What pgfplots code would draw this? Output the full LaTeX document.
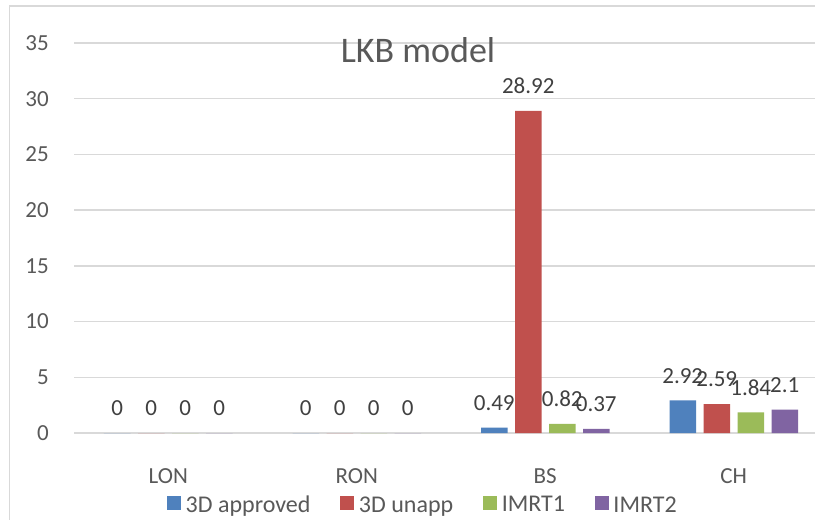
\documentclass[border=0pt]{standalone}
\usepackage{pgfplots}
\pgfplotsset{compat=1.18}
\usepackage{fontspec}
\setmainfont{Carlito}
\definecolor{gridgray}{HTML}{D9D9D9}
\definecolor{txtgray}{HTML}{595959}
\definecolor{lblgray}{HTML}{404040}
\definecolor{s1}{HTML}{4F81BD}
\definecolor{s2}{HTML}{C0504D}
\definecolor{s3}{HTML}{9BBB59}
\definecolor{s4}{HTML}{8064A2}

\begin{document}
\begin{tikzpicture}
\useasboundingbox (0,0) rectangle (815pt,520pt);
\clip (0,0) rectangle (815pt,520pt);
\fill[white] (0,0) rectangle (815pt,520pt);
% chart frame
\draw[gridgray, line width=1.5pt] (9.5pt,-20pt) rectangle (826pt,514pt);
\begin{axis}[
  at={(74pt,87pt)}, anchor=south west,
  scale only axis, width=754pt, height=390pt,
  xmin=-0.5, xmax=3.5, ymin=0, ymax=35,
  ybar=7.5pt, bar width=26.5pt,
  axis line style={draw=none},
  major tick length=0pt,
  xtick={0,1,2,3}, xticklabels={LON,RON,BS,CH},
  ytick={0,5,...,35},
  ymajorgrids, major grid style={gridgray, line width=1.5pt},
  tick label style={font=\fontsize{23}{27}\selectfont, text=txtgray, inner sep=0pt},
  yticklabel style={anchor=east, xshift=-25pt},
  xticklabel style={anchor=base, yshift=-50pt},
  /pgf/number format/assume math mode=true,
  nodes near coords,
  every node near coord/.append style={font=\fontsize{23}{27}\selectfont, text=lblgray, anchor=south, yshift=17pt, inner sep=0pt},
  clip=false,
  legend columns=4,
  legend cell align=left,
  legend image code/.code={\fill[#1] (0pt,-5pt) rectangle (14pt,9pt);},
  legend style={at={(axis description cs:0.1194,-0.1846)}, anchor=west,
    draw=none, fill=none, font=\fontsize{24}{28}\selectfont, text=txtgray,
    nodes={inner sep=0pt},
    /tikz/every odd column/.append style={column sep=4.5pt},
    /tikz/every even column/.append style={column sep=30pt}},
]
\addplot[fill=s1, draw=none] coordinates {(0,0) (1,0) (2,0.49) (3,2.92)};
\addplot[fill=s2, draw=none] coordinates {(0,0) (1,0) (2,28.92) (3,2.59)};
\addplot[fill=s3, draw=none] coordinates {(0,0) (1,0) (2,0.82) (3,1.84)};
\addplot[fill=s4, draw=none] coordinates {(0,0) (1,0) (2,0.37) (3,2.1)};
\legend{3D approved, 3D unapp, IMRT1, IMRT2}
\end{axis}
\node[anchor=base, inner sep=0pt, font=\fontsize{36}{40}\selectfont, text=txtgray] at (418pt,457pt) {LKB model};
\end{tikzpicture}
\end{document}
